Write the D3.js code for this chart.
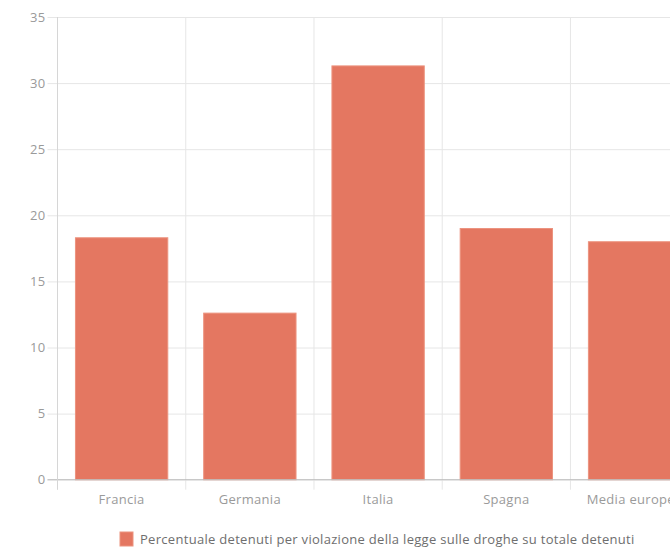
<!DOCTYPE html>
<html>
<head>
<meta charset="utf-8">
<script src="https://cdn.jsdelivr.net/npm/d3@7"></script>
<style>
  html, body { margin: 0; padding: 0; background: #fff; overflow: hidden; }
  svg { display: block; font-family: "Open Sans", "Liberation Sans", Arial, sans-serif; }
</style>
</head>
<body>
<svg id="chart" width="670" height="548"></svg>
<script>
// Categories and values
const categories = ["Francia", "Germania", "Italia", "Spagna", "Media europea"];
const values = [18.3, 12.6, 31.3, 19.0, 18.0];
const yTicks = [0, 5, 10, 15, 20, 25, 30, 35];
const seriesLabel = "Percentuale detenuti per violazione della legge sulle droghe su totale detenuti";

const svg = d3.select("#chart");
const fontFamily = "'Open Sans', 'Liberation Sans', Arial, sans-serif";

const plotLeft = 57.5, plotRight = 698.7, plotTop = 17, plotBottom = 479.7;

const x = d3.scaleBand()
  .domain(categories)
  .range([plotLeft, plotRight])
  .paddingInner(0.28)
  .paddingOuter(0.14);

const y = d3.scaleLinear().domain([0, 35]).range([plotBottom, plotTop]);

const gridColor = "#e6e6e6";
const step = x.step();

// horizontal gridlines with tick marks on the left
const yAxis = d3.axisLeft(y)
  .tickValues(yTicks)
  .tickSizeOuter(0)
  .tickFormat(d3.format("d"));

const gy = svg.append("g")
  .attr("transform", `translate(${plotLeft},0)`)
  .call(yAxis)
  .attr("font-family", fontFamily)
  .attr("font-size", 13);
gy.select(".domain").remove();
gy.selectAll(".tick line")
  .attr("x1", -10)
  .attr("x2", plotRight - plotLeft)
  .attr("stroke", gridColor);
gy.selectAll(".tick text")
  .attr("x", -12)
  .attr("fill", "#9a9a9a")
  .attr("letter-spacing", 0.3);

// vertical gridlines at category boundaries
const boundaries = categories.map(c => x(c) - (x.paddingInner() * step) / 2);
boundaries[0] = plotLeft;
boundaries.push(plotRight);
svg.append("g")
  .selectAll("line")
  .data(boundaries)
  .join("line")
  .attr("x1", d => d).attr("x2", d => d)
  .attr("y1", plotTop).attr("y2", plotBottom + 10)
  .attr("stroke", gridColor);

// bars
svg.append("g")
  .selectAll("rect")
  .data(values)
  .join("rect")
  .attr("x", (d, i) => x(categories[i]))
  .attr("y", d => y(d))
  .attr("width", x.bandwidth())
  .attr("height", d => y(0) - y(d))
  .attr("fill", "#e47761")
  .attr("stroke", "#ec937f")
  .attr("stroke-width", 1);

// axis lines
svg.append("line")
  .attr("x1", plotLeft - 10).attr("x2", plotRight)
  .attr("y1", y(0)).attr("y2", y(0))
  .attr("stroke", "#bdbdbd");
svg.append("line")
  .attr("x1", plotLeft).attr("x2", plotLeft)
  .attr("y1", plotTop).attr("y2", plotBottom + 10)
  .attr("stroke", "#d6d6d6");

// category labels
const xAxis = d3.axisBottom(x).tickSize(0).tickPadding(0);
const gx = svg.append("g")
  .attr("transform", `translate(0,${plotBottom})`)
  .call(xAxis)
  .attr("font-family", fontFamily)
  .attr("font-size", 13);
gx.select(".domain").remove();
gx.selectAll(".tick line").remove();
gx.selectAll(".tick text")
  .attr("dy", null)
  .attr("y", 24)
  .attr("fill", "#9a9a9a")
  .attr("letter-spacing", 0.3);

// legend
const legend = svg.append("g").attr("transform", "translate(120,532)");
legend.append("rect")
  .attr("x", 0).attr("y", 0)
  .attr("width", 13).attr("height", 14)
  .attr("fill", "#e47761")
  .attr("stroke", "#ec937f");
legend.append("text")
  .attr("x", 20).attr("y", 12)
  .attr("fill", "#6e6e6e")
  .attr("font-size", 13)
  .attr("letter-spacing", 0.3)
  .text(seriesLabel);
</script>
</body>
</html>
